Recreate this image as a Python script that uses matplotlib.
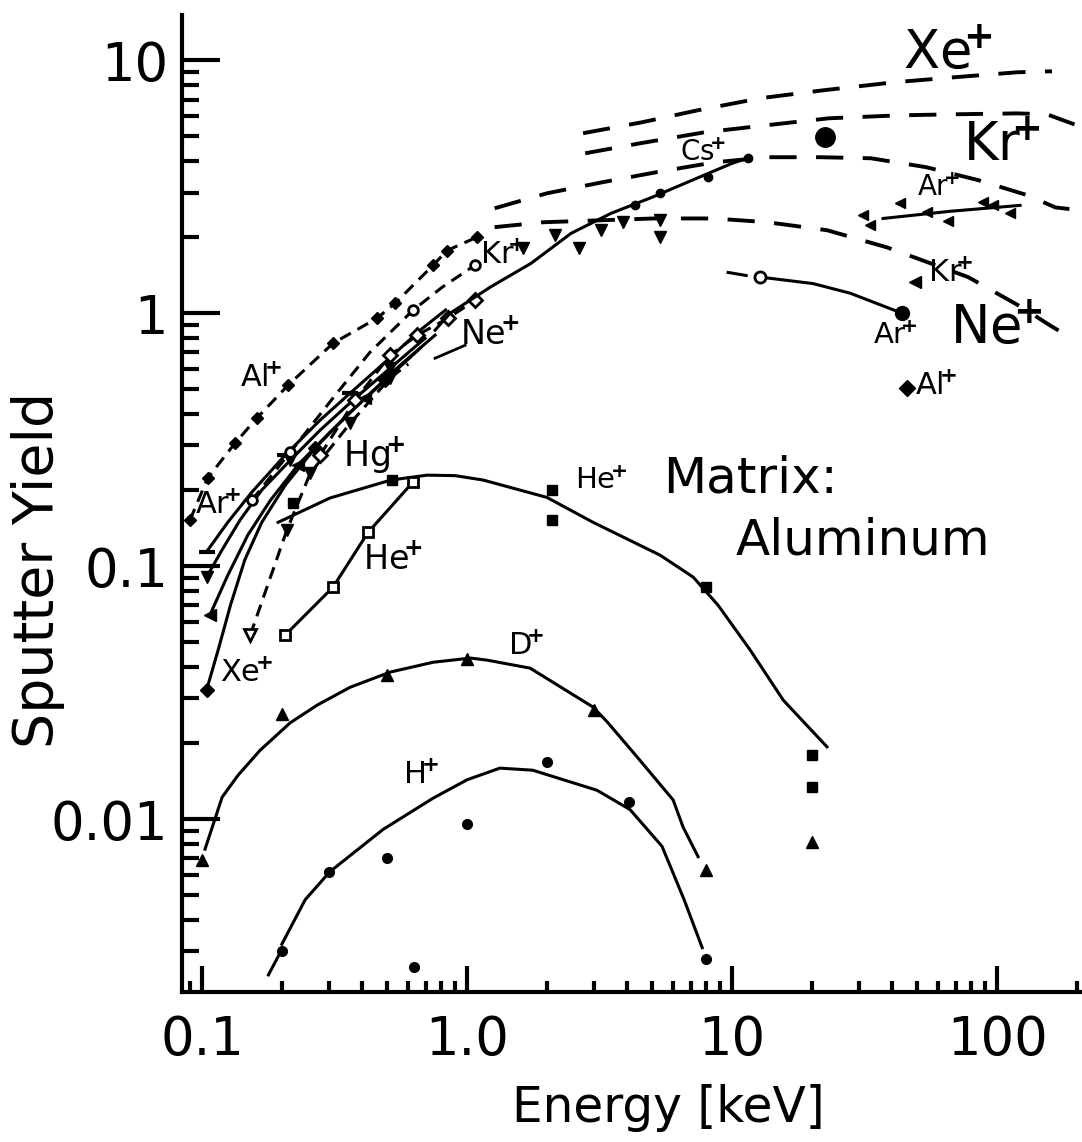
import matplotlib.pyplot as plt
from matplotlib.ticker import FixedLocator, FixedFormatter, LogLocator, NullFormatter

plt.rcParams['font.family'] = 'DejaVu Sans'

# ---- calculated yields (long dashes), energy in keV
xe_th_E = [2.74, 4.57, 7.44, 12.75, 22.0, 40.9, 68.8, 119, 161]
xe_th_Y = [5.15, 5.69, 6.35, 7.08, 7.61, 8.19, 8.57, 8.97, 9.05]
kr_th_E = [2.79, 4.50, 7.84, 13.3, 23.2, 42.3, 70.0, 119, 154, 209]
kr_th_Y = [4.29, 4.70, 5.19, 5.53, 5.90, 6.06, 6.12, 6.17, 6.12, 5.44]
cs_th_E = [1.27, 2.00, 3.26, 5.17, 8.55, 13.6, 21.3, 33.4, 54.0, 84.8, 130, 166, 209]
cs_th_Y = [2.60, 2.98, 3.30, 3.61, 3.95, 4.14, 4.14, 4.10, 3.78, 3.36, 2.93, 2.62, 2.55]
ne_th_E = [1.27, 1.94, 5.08, 8.55, 13.6, 22.8, 38.5, 77.7, 125, 157, 197]
ne_th_Y = [2.19, 2.29, 2.37, 2.37, 2.29, 2.13, 1.82, 1.39, 1.05, 0.90, 0.78]

# ---- measured yields, low energy bundle
al_E = [0.09, 0.105, 0.133, 0.161, 0.211, 0.312, 0.457, 0.535, 0.745, 0.84, 1.09]
al_Y = [0.152, 0.223, 0.306, 0.385, 0.519, 0.761, 0.955, 1.095, 1.55, 1.77, 2.0]
ar_E = [0.104, 0.125, 0.154, 0.206, 0.279, 0.362, 0.49, 0.665, 0.83]
ar_Y = [0.114, 0.149, 0.196, 0.275, 0.378, 0.483, 0.64, 0.857, 1.03]
tri_E = [0.104, 0.119, 0.139, 0.168, 0.215, 0.279, 0.378, 0.512, 0.694]
tri_Y = [0.0905, 0.116, 0.152, 0.200, 0.262, 0.345, 0.461, 0.606, 0.796]
arw_E = [0.107, 0.125, 0.149, 0.181, 0.230, 0.304, 0.412, 0.559, 0.757]
arw_Y = [0.064, 0.092, 0.133, 0.182, 0.251, 0.339, 0.461, 0.623, 0.819]
xe_E = [0.104, 0.115, 0.128, 0.145, 0.168, 0.206, 0.267, 0.362, 0.491, 0.665]
xe_Y = [0.0324, 0.0466, 0.0701, 0.106, 0.149, 0.209, 0.293, 0.406, 0.543, 0.727]
hg_E = [0.152, 0.209, 0.256, 0.362, 0.512, 0.60]
hg_Y = [0.0534, 0.139, 0.233, 0.367, 0.554, 0.63]
kr_E = [0.154, 0.215, 0.318, 0.43, 0.625, 0.805, 1.07]
kr_Y = [0.182, 0.282, 0.474, 0.701, 1.028, 1.267, 1.548]
ne_E = [0.279, 0.378, 0.512, 0.648, 0.848, 1.07]
ne_Y = [0.275, 0.453, 0.682, 0.819, 0.956, 1.125]
cs_E = [0.757, 0.863, 1.221, 1.744, 2.47, 3.494, 4.99, 7.06, 10.0, 11.7]
cs_Y = [0.857, 1.0, 1.267, 1.576, 2.071, 2.484, 2.874, 3.356, 3.916, 4.136]
cs_pts_E = [4.31, 5.35, 8.12, 11.5]
cs_pts_Y = [2.67, 2.98, 3.45, 4.10]
ne_pts_E = [1.63, 2.15, 2.65, 3.20, 3.88, 5.35, 5.35]
ne_pts_Y = [1.81, 2.03, 1.81, 2.13, 2.29, 2.33, 2.00]

# ---- high energy points
ar_hi_E = [31.2, 33.2, 43.0, 54.4, 65.3, 88.5, 96.6, 112]
ar_hi_Y = [2.44, 2.23, 2.72, 2.51, 2.31, 2.75, 2.67, 2.49]
ar_hi_fit_E = [37.1, 66.5, 122]
ar_hi_fit_Y = [2.37, 2.53, 2.67]
ar_mid_E = [12.75, 20.2, 27.9, 43.8]
ar_mid_Y = [1.39, 1.31, 1.20, 1.0]
kr_hi_E, kr_hi_Y = [49.0], [1.33]
al_hi_E, al_hi_Y = [45.7], [0.505]
xe_hi_E, xe_hi_Y = [22.4], [4.96]

# ---- light ions
he_E = [0.22, 0.52, 2.1, 2.1, 8.0, 20.0, 20.0]
he_Y = [0.178, 0.219, 0.200, 0.152, 0.083, 0.0179, 0.0134]
he_fit_E = [0.1935, 0.304, 0.516, 0.707, 0.9, 1.15, 2.0, 2.99, 5.35, 7.13, 8.85, 11.7, 15.6, 22.8]
he_fit_Y = [0.149, 0.186, 0.219, 0.229, 0.228, 0.219, 0.187, 0.149, 0.1105, 0.0905, 0.0701,
            0.0466, 0.0295, 0.0193]
he_lo_E = [0.206, 0.312, 0.423, 0.625]
he_lo_Y = [0.0534, 0.0826, 0.136, 0.215]
d_E = [0.1, 0.2, 0.5, 1.0, 3.0, 8.0, 20.0]
d_Y = [0.0069, 0.026, 0.037, 0.043, 0.027, 0.0063, 0.0081]
d_fit_E = [0.1026, 0.1139, 0.119, 0.1367, 0.1655, 0.2148, 0.2716, 0.362, 0.512, 0.745, 1.03,
           1.19, 1.73, 2.99, 3.38, 4.38, 5.99, 6.53, 7.44]
d_fit_Y = [0.0076, 0.0106, 0.0122, 0.0149, 0.0187, 0.0240, 0.0282, 0.0332, 0.0381, 0.0417, 0.0433,
           0.0425, 0.0395, 0.0277, 0.0242, 0.0176, 0.0119, 0.0093, 0.0071]
h_E = [0.2, 0.3, 0.5, 1.0, 2.0, 4.1, 8.0, 0.63]
h_Y = [0.0030, 0.0062, 0.0070, 0.0096, 0.0168, 0.0117, 0.0028, 0.0026]
h_fit_E = [0.2, 0.245, 0.304, 0.482, 0.745, 1.0, 1.33, 1.77, 3.09, 4.12, 5.44, 6.59, 7.71]
h_fit_Y = [0.0032, 0.0048, 0.0062, 0.0091, 0.0121, 0.0143, 0.0159, 0.0156, 0.0130, 0.0109, 0.0078,
           0.0048, 0.0031]

# ion name, left edge energy, yield, font size
labels = [
    ('Xe', 44.2, 10.76, 38), ('Kr', 74.4, 4.61, 38), ('Ne', 66.5, 0.88, 38),
    ('Cs', 6.36, 4.29, 20), ('Ar', 49.9, 3.12, 20), ('Kr', 54.9, 1.44, 22),
    ('Ar', 34.0, 0.811, 21), ('Al', 49.1, 0.515, 22), ('He', 2.556, 0.217, 21),
    ('He', 0.405, 0.1056, 24), ('Hg', 0.340, 0.2746, 25), ('Ne', 0.941, 0.819, 24),
    ('Kr', 1.12, 1.695, 22), ('Al', 0.139, 0.554, 22), ('Ar', 0.094, 0.174, 22),
    ('Xe', 0.117, 0.0378, 22), ('D', 1.428, 0.0483, 22), ('H', 0.574, 0.0149, 22),
]

fig = plt.figure(figsize=(10.82, 11.42), dpi=100)
ax = fig.add_axes([0.1682, 0.1313, 0.8318, 0.8555])
ax.set_xscale('log')
ax.set_yscale('log')
ax.set_xlim(0.084, 209)
ax.set_ylim(0.00207, 15.1)

k = 'black'
long_dash = (0, (7, 5))
short_dash = (0, (4, 2.5))

for E, Y in [(xe_th_E, xe_th_Y), (kr_th_E, kr_th_Y), (cs_th_E, cs_th_Y), (ne_th_E, ne_th_Y)]:
    ax.plot(E, Y, color=k, lw=2.8, ls=long_dash)

# bundle of low energy curves
ax.plot(al_E, al_Y, color=k, lw=2.2, ls=short_dash, marker='D', ms=6)
ax.plot(ar_E, ar_Y, color=k, lw=2.2, marker='_', ms=12, mew=3, markevery=[0, 3, 5])
ax.plot(tri_E, tri_Y, color=k, lw=2.2, marker='v', ms=8, markevery=[0, 4, 6, 7])
ax.plot(arw_E, arw_Y, color=k, lw=2.2, marker='<', ms=8, markevery=[0, 4, 6])
ax.plot(xe_E, xe_Y, color=k, lw=2.2, marker='D', ms=7, markevery=[0, 6, 8])
ax.plot(hg_E, hg_Y, color=k, lw=2.2, ls=short_dash, marker='v', ms=8, mfc='white', mew=2,
        markevery=[0])
ax.plot(hg_E[1:5], hg_Y[1:5], ls='none', marker='v', ms=8, color=k)
ax.plot(kr_E, kr_Y, color=k, lw=2.2, ls=short_dash, marker='o', ms=7, mfc='white', mew=2,
        markevery=[0, 1, 4, 6])
ax.plot(ne_E, ne_Y, color=k, lw=2.2, ls=short_dash, marker='D', ms=7, mfc='white', mew=2)
ax.plot([0.757, 0.983], [0.664, 0.747], color=k, lw=2)  # leader to the Ne+ tag
ax.plot(cs_E, cs_Y, color=k, lw=2.2)
ax.plot(cs_pts_E, cs_pts_Y, ls='none', marker='o', ms=6, color=k)
ax.plot(ne_pts_E, ne_pts_Y, ls='none', marker='v', ms=8, color=k)

# high energy points
ax.plot(ar_hi_fit_E, ar_hi_fit_Y, color=k, lw=2.2)
ax.plot(ar_hi_E, ar_hi_Y, ls='none', marker='<', ms=7, color=k)
ax.plot(ar_mid_E, ar_mid_Y, color=k, lw=2.2)
ax.plot([9.66, 11.3], [1.45, 1.41], color=k, lw=2.2)
ax.plot(ar_mid_E[0], ar_mid_Y[0], marker='o', ms=8, mfc='white', mew=2, color=k)
ax.plot(ar_mid_E[-1], ar_mid_Y[-1], marker='o', ms=10, color=k)
ax.plot(kr_hi_E, kr_hi_Y, ls='none', marker='<', ms=8, color=k)
ax.plot(al_hi_E, al_hi_Y, ls='none', marker='D', ms=8, color=k)
ax.plot(xe_hi_E, xe_hi_Y, ls='none', marker='o', ms=14, color=k)

# He, D, H
ax.plot(he_fit_E, he_fit_Y, color=k, lw=2.2)
ax.plot(he_E, he_Y, ls='none', marker='s', ms=7, color=k)
ax.plot(he_lo_E, he_lo_Y, color=k, lw=2.2, marker='s', ms=7, mfc='white', mew=2)
ax.plot(d_fit_E, d_fit_Y, color=k, lw=2.2)
ax.plot(d_E, d_Y, ls='none', marker='^', ms=9, color=k)
ax.plot(h_fit_E, h_fit_Y, color=k, lw=2.2)
ax.plot([0.178, 0.195], [0.00242, 0.0029], color=k, lw=2.2)
ax.plot(h_E, h_Y, ls='none', marker='o', ms=7, color=k)

# ion tags with a tight charge superscript
for name, E, Y, size in labels:
    ax.text(E, Y, name + r'$\!{}^{\mathbf{+}}$', fontsize=size, ha='left', va='center')

ax.text(5.49, 0.223, 'Matrix:', fontsize=36, ha='left', va='center')
ax.text(10.3, 0.1267, 'Aluminum', fontsize=36, ha='left', va='center')

# axes
for side in ['top', 'right']:
    ax.spines[side].set_visible(False)
for side in ['left', 'bottom']:
    ax.spines[side].set_linewidth(3)

ax.xaxis.set_major_locator(FixedLocator([0.1, 1, 10, 100]))
ax.xaxis.set_major_formatter(FixedFormatter(['0.1', '1.0', '10', '100']))
ax.yaxis.set_major_locator(FixedLocator([0.01, 0.1, 1, 10]))
ax.yaxis.set_major_formatter(FixedFormatter(['0.01', '0.1', '1', '10']))
for axis in [ax.xaxis, ax.yaxis]:
    axis.set_minor_locator(LogLocator(base=10, subs=range(2, 10), numticks=20))
    axis.set_minor_formatter(NullFormatter())

ax.tick_params(axis='x', which='major', direction='in', length=19, width=3, pad=16, labelsize=38)
ax.tick_params(axis='x', which='minor', direction='in', length=8, width=3)
ax.tick_params(axis='y', which='major', direction='in', length=27, width=3, pad=10, labelsize=38)
ax.tick_params(axis='y', which='minor', direction='in', length=12, width=3)

fig.text(38 / 1082, 1 - 570 / 1142, 'Sputter Yield', rotation=90, fontsize=40,
         ha='center', va='center')
fig.text(668 / 1082, 1 - 1108 / 1142, 'Energy [keV]', fontsize=35, ha='center', va='center')

fig.savefig('out.png', dpi=100)
